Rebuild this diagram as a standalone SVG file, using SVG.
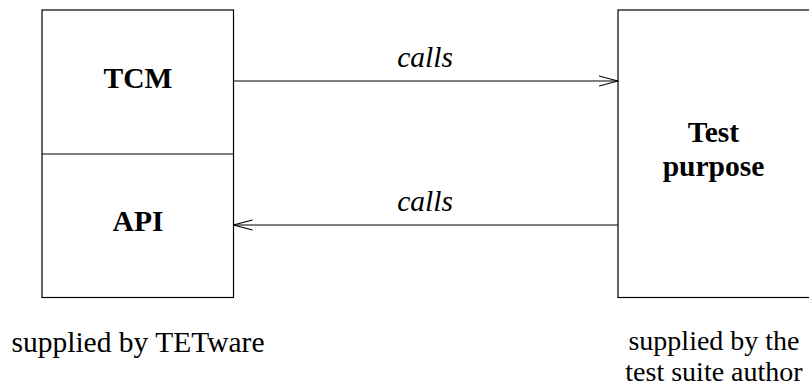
<svg xmlns="http://www.w3.org/2000/svg" width="809" height="390" viewBox="0 0 809 390">
<defs>
<style>
.box{fill:#fff;stroke:#000;stroke-width:1.2}
.ln{fill:none;stroke:#000;stroke-width:1.2}
.b{font-family:"Liberation Serif","Times New Roman",serif;font-size:29.5px;font-weight:bold;text-anchor:middle;fill:#000}
.i{font-family:"Liberation Serif","Times New Roman",serif;font-size:29.5px;font-style:italic;text-anchor:middle;fill:#000}
.r{font-family:"Liberation Serif","Times New Roman",serif;font-size:29.5px;text-anchor:middle;fill:#000}
.r2{font-family:"Liberation Serif","Times New Roman",serif;font-size:28px;text-anchor:middle;fill:#000}
</style>
<marker id="ah" viewBox="0 0 20 12" refX="19" refY="6" markerWidth="20" markerHeight="12" markerUnits="userSpaceOnUse" orient="auto">
<path d="M0,1 L19,6 L0,11" fill="none" stroke="#000" stroke-width="1.2"/>
</marker>
</defs>
<rect width="809" height="390" fill="#fff"/>
<g id="tetware">
<rect class="box" x="42" y="10" width="191.5" height="287.5"/>
<line class="ln" x1="42" y1="154" x2="233.5" y2="154"/>
</g>
<g id="tcm"><text class="b" x="138" y="87.5">TCM</text></g>
<g id="api"><text class="b" x="138" y="230.5">API</text></g>
<g id="test-purpose">
<rect class="box" x="618" y="10" width="200" height="287.5"/>
<text class="b" x="713.5" y="141.5">Test</text>
<text class="b" x="713.5" y="175.5">purpose</text>
</g>
<g id="connectors">
<line class="ln" x1="233.5" y1="81" x2="618" y2="81" marker-end="url(#ah)"/>
<text class="i" x="425" y="66.5">calls</text>
<line class="ln" x1="618" y1="225" x2="233.5" y2="225" marker-end="url(#ah)"/>
<text class="i" x="425" y="210.5">calls</text>
</g>
<g id="labels">
<text class="r" x="138" y="351.5">supplied by TETware</text>
<text class="r2" x="714" y="349.5">supplied by the</text>
<text class="r2" x="714" y="381">test suite author</text>
</g>
</svg>
